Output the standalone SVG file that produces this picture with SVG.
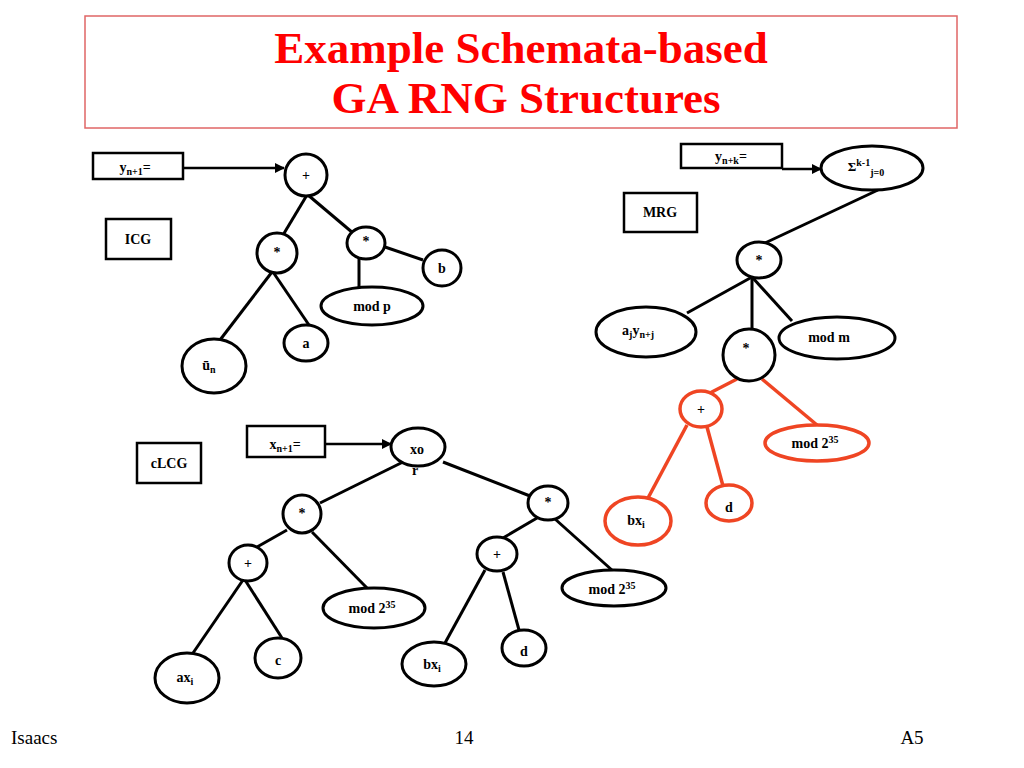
<svg xmlns="http://www.w3.org/2000/svg" width="1024" height="768" viewBox="0 0 1024 768">
<style>
.t{font-family:"Liberation Serif","Times New Roman",serif;font-weight:bold;font-size:14px;fill:#000;text-anchor:middle}
.s{font-size:10px}
.title{font-family:"Liberation Serif","Times New Roman",serif;font-weight:bold;font-size:45px;fill:#FF0000;text-anchor:middle}
.foot{font-family:"Liberation Serif","Times New Roman",serif;font-size:19px;fill:#000}
.n{fill:#fff;stroke:#000;stroke-width:3}
.r{fill:#fff;stroke:#EF4523;stroke-width:3.5}
.box{fill:#fff;stroke:#000;stroke-width:2.5}
.c{stroke:#000;stroke-width:3;fill:none}
.cr{stroke:#EF4523;stroke-width:3.5;fill:none}
.a{stroke:#000;stroke-width:2.5;fill:none;marker-end:url(#ah)}
</style>
<defs>
<marker id="ah" viewBox="0 0 10 10" refX="9" refY="5" markerWidth="4" markerHeight="4" orient="auto" markerUnits="strokeWidth">
<path d="M0,0 L10,5 L0,10 z" fill="#000"/>
</marker>
</defs>
<rect width="1024" height="768" fill="#fff"/>
<g id="title">
<rect x="85" y="16" width="872" height="112" fill="none" stroke="#E06666" stroke-width="1.5"/>
<text class="title" x="521" y="63">Example Schemata-based</text>
<text class="title" x="526" y="113">GA RNG Structures</text>
</g>
<g id="connectors">
<line class="a" x1="183" y1="168" x2="284" y2="168"/>
<line class="c" x1="307" y1="195" x2="283" y2="235"/>
<line class="c" x1="308" y1="195" x2="353" y2="233"/>
<line class="c" x1="385" y1="247" x2="423" y2="260"/>
<line class="c" x1="359" y1="258" x2="359" y2="287"/>
<line class="c" x1="272" y1="272" x2="220" y2="340"/>
<line class="c" x1="273" y1="272" x2="309" y2="325"/>
<line class="a" x1="782" y1="169" x2="821" y2="169"/>
<line class="c" x1="878" y1="190" x2="765" y2="243"/>
<line class="c" x1="752" y1="277" x2="687" y2="313"/>
<line class="c" x1="752" y1="277" x2="752" y2="329"/>
<line class="c" x1="752" y1="277" x2="792" y2="321"/>
<line class="cr" x1="737" y1="379" x2="708" y2="394"/>
<line class="cr" x1="762" y1="379" x2="817" y2="425"/>
<line class="cr" x1="687" y1="425" x2="648" y2="498"/>
<line class="cr" x1="707" y1="427" x2="723" y2="486"/>
<line class="a" x1="325" y1="444" x2="391" y2="444"/>
<line class="c" x1="403" y1="462" x2="320" y2="503"/>
<line class="c" x1="443" y1="462" x2="530" y2="496"/>
<line class="c" x1="287" y1="530" x2="257" y2="547"/>
<line class="c" x1="312" y1="532" x2="367" y2="588"/>
<line class="c" x1="243" y1="580" x2="193" y2="653"/>
<line class="c" x1="245" y1="580" x2="282" y2="638"/>
<line class="c" x1="537" y1="518" x2="503" y2="538"/>
<line class="c" x1="555" y1="519" x2="613" y2="571"/>
<line class="c" x1="485" y1="570" x2="445" y2="643"/>
<line class="c" x1="503" y1="572" x2="519" y2="630"/>
</g>
<g id="icg-yn1"><rect class="box" x="93" y="153" width="90" height="26"/><text class="t" x="135" y="172">y<tspan class="s" dy="3">n+1</tspan><tspan dy="-3">=</tspan></text></g>
<g id="icg-label"><rect class="box" x="106" y="219" width="65" height="40"/><text class="t" x="138" y="244">ICG</text></g>
<g id="icg-plus"><ellipse class="n" cx="306" cy="175" rx="21" ry="21"/><text class="t" x="306" y="180">+</text></g>
<g id="icg-mul1"><ellipse class="n" cx="277" cy="253" rx="20" ry="20"/><text class="t" x="277" y="257">*</text></g>
<g id="icg-mul2"><ellipse class="n" cx="366" cy="243" rx="19" ry="16"/><text class="t" x="366" y="246">*</text></g>
<g id="icg-b"><ellipse class="n" cx="442" cy="268" rx="19" ry="18"/><text class="t" x="442" y="273">b</text></g>
<g id="icg-modp"><ellipse class="n" cx="372" cy="306" rx="51" ry="19"/><text class="t" x="372" y="311">mod p</text></g>
<g id="icg-a"><ellipse class="n" cx="306" cy="343" rx="22" ry="18"/><text class="t" x="306" y="348">a</text></g>
<g id="icg-un"><ellipse class="n" cx="214" cy="366" rx="32" ry="27"/><text class="t" x="209" y="370">ū<tspan class="s" dy="3">n</tspan></text></g>

<g id="mrg-ynk"><rect class="box" x="681" y="144" width="101" height="24"/><text class="t" x="731" y="161">y<tspan class="s" dy="3">n+k</tspan><tspan dy="-3">=</tspan></text></g>
<g id="mrg-label"><rect class="box" x="624" y="193" width="73" height="39"/><text class="t" x="660" y="217">MRG</text></g>
<g id="mrg-sum"><ellipse class="n" cx="872" cy="168" rx="51" ry="22"/><text class="t" x="866" y="171" style="font-size:13px">Σ<tspan class="s" dy="-5">k-1</tspan><tspan class="s" dy="10">j=0</tspan></text></g>
<g id="mrg-mul"><ellipse class="n" cx="759" cy="260" rx="22" ry="18"/><text class="t" x="759" y="265">*</text></g>
<g id="mrg-ay"><ellipse class="n" cx="646" cy="332" rx="50" ry="25"/><text class="t" x="638" y="335">a<tspan class="s" dy="3">j</tspan><tspan dy="-3">y</tspan><tspan class="s" dy="3">n+j</tspan></text></g>
<g id="mrg-mul2"><ellipse class="n" cx="749" cy="355" rx="26" ry="26"/><text class="t" x="746" y="353">*</text></g>
<g id="mrg-modm"><ellipse class="n" cx="837" cy="338" rx="58" ry="21"/><text class="t" x="829" y="342">mod m</text></g>
<g id="mrg-plus"><ellipse class="r" cx="701" cy="409" rx="21" ry="18"/><text class="t" x="701" y="414">+</text></g>
<g id="mrg-mod235"><ellipse class="r" cx="817" cy="443" rx="52" ry="18"/><text class="t" x="815" y="448">mod 2<tspan class="s" dy="-5">35</tspan></text></g>
<g id="mrg-bx"><ellipse class="r" cx="638" cy="521" rx="33" ry="24"/><text class="t" x="636" y="525">bx<tspan class="s" dy="3">i</tspan></text></g>
<g id="mrg-d"><ellipse class="r" cx="729" cy="503" rx="23" ry="18"/><text class="t" x="729" y="512">d</text></g>

<g id="clcg-label"><rect class="box" x="137" y="443" width="64" height="40"/><text class="t" x="169" y="468">cLCG</text></g>
<g id="clcg-xn1"><rect class="box" x="247" y="426" width="78" height="31"/><text class="t" x="285" y="449">x<tspan class="s" dy="3">n+1</tspan><tspan dy="-3">=</tspan></text></g>
<g id="clcg-xor"><ellipse class="n" cx="418" cy="447" rx="27" ry="19"/><text class="t" x="417" y="454">xo</text><text class="t" x="415" y="475">r</text></g>
<g id="clcg-mul1"><ellipse class="n" cx="302" cy="514" rx="19" ry="19"/><text class="t" x="302" y="518">*</text></g>
<g id="clcg-plus1"><ellipse class="n" cx="248" cy="563" rx="19" ry="18"/><text class="t" x="248" y="568">+</text></g>
<g id="clcg-mod1"><ellipse class="n" cx="374" cy="608" rx="51" ry="20"/><text class="t" x="372" y="613">mod 2<tspan class="s" dy="-5">35</tspan></text></g>
<g id="clcg-ax"><ellipse class="n" cx="187" cy="678" rx="32" ry="25"/><text class="t" x="185" y="682">ax<tspan class="s" dy="3">i</tspan></text></g>
<g id="clcg-c"><ellipse class="n" cx="278" cy="658" rx="23" ry="20"/><text class="t" x="278" y="665">c</text></g>
<g id="clcg-mul2"><ellipse class="n" cx="548" cy="503" rx="20" ry="17"/><text class="t" x="548" y="507">*</text></g>
<g id="clcg-plus2"><ellipse class="n" cx="497" cy="554" rx="20" ry="17"/><text class="t" x="497" y="559">+</text></g>
<g id="clcg-mod2"><ellipse class="n" cx="614" cy="588" rx="52" ry="18"/><text class="t" x="612" y="594">mod 2<tspan class="s" dy="-5">35</tspan></text></g>
<g id="clcg-bx"><ellipse class="n" cx="434" cy="664" rx="32" ry="22"/><text class="t" x="432" y="669">bx<tspan class="s" dy="3">i</tspan></text></g>
<g id="clcg-d"><ellipse class="n" cx="524" cy="648" rx="22" ry="18"/><text class="t" x="524" y="656">d</text></g>

<g id="footer">
<text class="foot" x="11" y="744">Isaacs</text>
<text class="foot" x="464" y="744" text-anchor="middle">14</text>
<text class="foot" x="912" y="744" text-anchor="middle">A5</text>
</g>
</svg>
